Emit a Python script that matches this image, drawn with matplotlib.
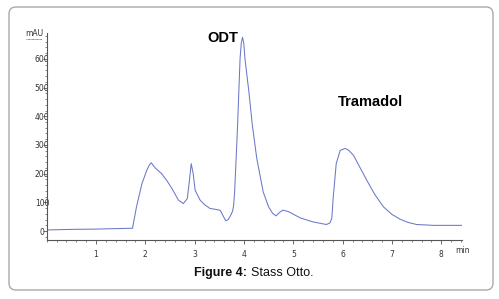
import matplotlib
matplotlib.use("Agg")
import matplotlib.pyplot as plt
from matplotlib.patches import FancyBboxPatch
from matplotlib.transforms import IdentityTransform
from matplotlib.ticker import MultipleLocator

# chromatogram (time in min, signal in mAU)
time_min = [0.0, 0.5, 1.0, 1.5, 1.74, 1.82, 1.93, 2.03, 2.08, 2.12, 2.2, 2.33,
            2.44, 2.54, 2.67, 2.77, 2.85, 2.89, 2.93, 2.97, 3.01, 3.11, 3.2,
            3.31, 3.45, 3.52, 3.58, 3.63, 3.68, 3.73, 3.77, 3.79, 3.81, 3.84,
            3.87, 3.92, 3.945, 3.97, 3.995, 4.02, 4.1, 4.17, 4.26, 4.39, 4.5,
            4.58, 4.65, 4.72, 4.79, 4.9, 5.14, 5.4, 5.67, 5.74, 5.78, 5.81,
            5.87, 5.95, 6.05, 6.12, 6.22, 6.35, 6.49, 6.65, 6.83, 7.0, 7.17,
            7.33, 7.5, 7.84, 8.1, 8.43]
signal_mau = [4, 6, 7, 9, 10, 84, 165, 212, 230, 238, 220, 200,
              175, 148, 108, 96, 113, 170, 235, 200, 142, 108, 92,
              79, 75, 72, 52, 36, 40, 55, 70, 90, 136, 250,
              368, 600, 655, 675, 655, 600, 484, 368, 252, 136, 84,
              62, 53, 65, 73, 68, 46, 32, 23, 28, 44, 119,
              235, 281, 288, 282, 264, 222, 177, 128, 84, 58, 41,
              30, 23, 20, 20, 20]

peak_names = ["ODT", "Tramadol"]
peak_label_x = [3.25, 5.91]
peak_label_y = [672, 450]

y_ticks = [0, 100, 200, 300, 400, 500, 600]
x_ticks = [1, 2, 3, 4, 5, 6, 7, 8]

W, H = 499, 299
fig = plt.figure(figsize=(W / 100, H / 100), dpi=100)
ax = fig.add_axes([46.7 / W, 1 - 240 / H, (462 - 46.7) / W, (240 - 33) / H])

ax.plot(time_min, signal_mau, color="#6b78c8", lw=0.75)

ax.set_xlim(0, 8.42)
ax.set_ylim(-31, 690)
ax.set_xticks(x_ticks)
ax.set_yticks(y_ticks)
ax.xaxis.set_minor_locator(MultipleLocator(0.2))
ax.yaxis.set_minor_locator(MultipleLocator(20))

for s in ["top", "right"]:
    ax.spines[s].set_visible(False)
for s in ["left", "bottom"]:
    ax.spines[s].set_color("#555555")
    ax.spines[s].set_linewidth(0.8)

ax.tick_params(axis="both", which="major", length=3, width=0.6, color="#555555",
               labelsize=5.5, labelcolor="#333333")
ax.tick_params(axis="both", which="minor", length=1.5, width=0.5, color="#555555")
ax.tick_params(axis="y", which="major", pad=0.4)
ax.tick_params(axis="x", which="major", pad=4)
for lab in ax.get_yticklabels():
    lab.set_horizontalalignment("center")

# unit labels
ax.text(8.42, -68, "min", fontsize=5.5, color="#333333", ha="center", va="center",
        clip_on=False)
ax.text(-0.26, 688, "mAU", fontsize=5.5, color="#333333", ha="center", va="center",
        clip_on=False)
ax.plot([-0.26 - 0.16, -0.26 + 0.16], [670, 670], color="#e03030", lw=0.6,
        ls=(0, (1, 0.6)), clip_on=False)

for name, lx, ly in zip(peak_names, peak_label_x, peak_label_y):
    ax.text(lx, ly, name, fontsize=10.5, fontweight="bold", family="Liberation Sans",
            ha="left", va="center")

# caption
fig.text(247 / W, 1 - 273 / H, "Figure 4:", fontsize=9, fontweight="bold",
         family="Liberation Sans", ha="right", va="center", color="#111111")
fig.text(251 / W, 1 - 273 / H, "Stass Otto.", fontsize=9,
         family="Liberation Sans", ha="left", va="center", color="#111111")

# rounded frame
frame = FancyBboxPatch((9, 9), 484, 283, boxstyle="round,pad=0,rounding_size=7",
                       transform=IdentityTransform(), fill=False,
                       edgecolor="#aaaaaa", lw=1.0)
fig.add_artist(frame)

fig.savefig("out.png", dpi=100)
